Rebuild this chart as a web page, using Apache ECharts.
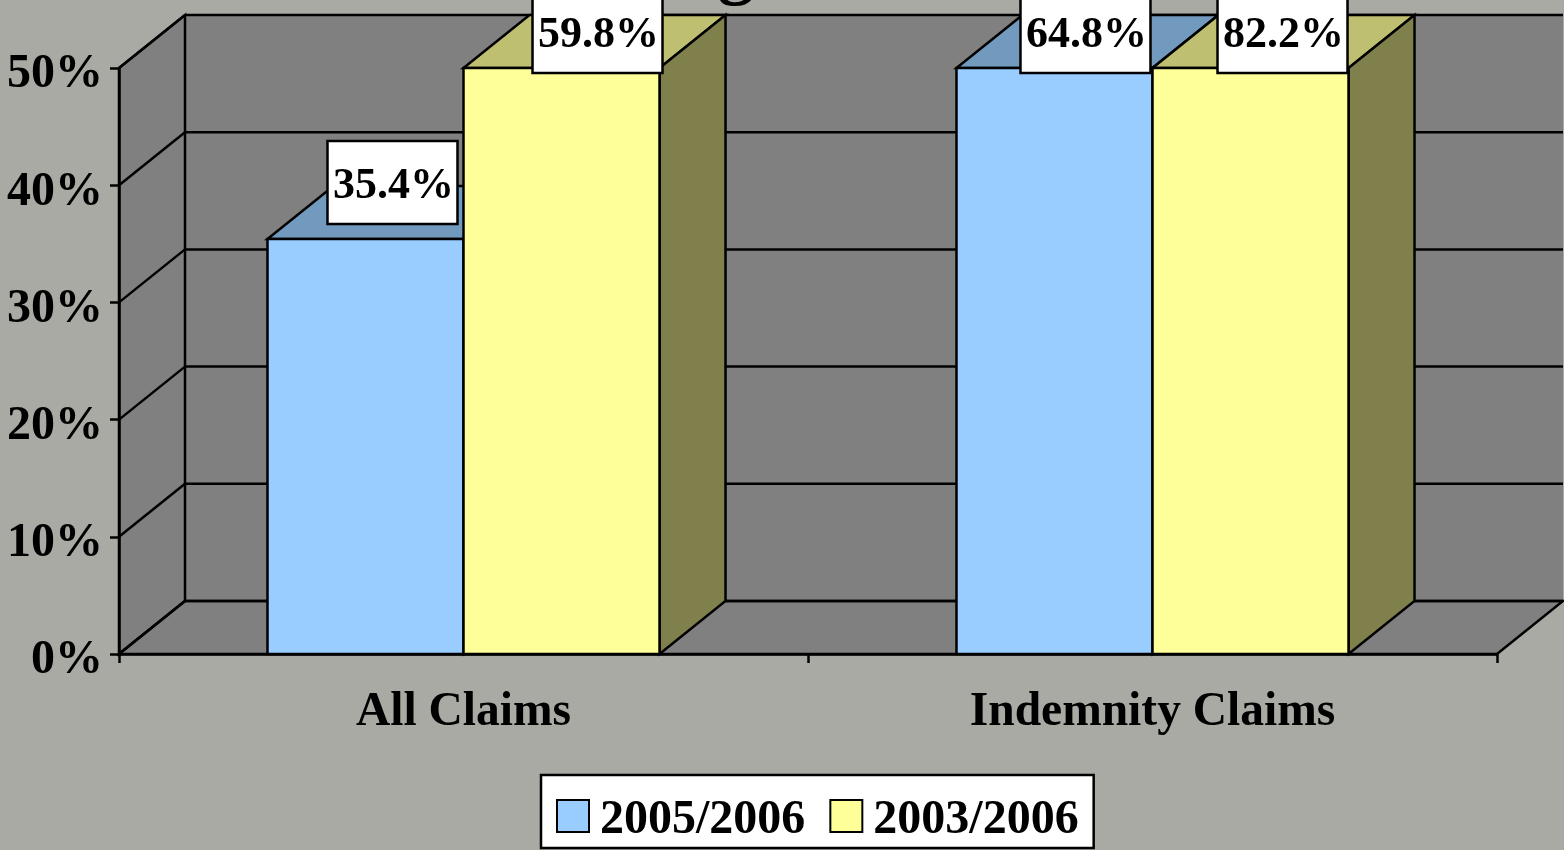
<!DOCTYPE html>
<html>
<head>
<meta charset="utf-8">
<style>
	html, body { margin: 0; padding: 0; background: #A9AAA3; overflow: hidden; }
	#chart { width: 1564px; height: 850px; }
</style>
<script src="https://cdn.jsdelivr.net/npm/echarts@6/dist/echarts.min.js"></script>
</head>
<body>
<div id="chart"></div>
<script>
// data
var categories = ['All Claims', 'Indemnity Claims'];
var seriesNames = ['2005/2006', '2003/2006'];
var values2005 = [35.4, 64.8];
var values2003 = [59.8, 82.2];
var yTicks = [0, 10, 20, 30, 40, 50];

// look of the fake 3D box
var axisMax = 50;
var depthX = 66;			// how far the back wall sits from the front plane
var depthY = -53;
var barRatio = 0.2845;		// bar width / category width
var lineW = 2.5;

var colors = [
	{ front: '#99CCFF', top: '#729ABF', side: '#4C6680' },
	{ front: '#FFFF99', top: '#BFBF72', side: '#80804C' }
];
// label box centre relative to the top middle of the bar front (series, category)
var labelShift = [
	[[27, -56.5], [31, -36.5]],
	[[36, -36.5], [32, -36.5]]
];

var line = { stroke: '#000', lineWidth: lineW };
var wallStyle = { fill: '#808080', stroke: '#000', lineWidth: lineW };

var myChart = echarts.init(document.getElementById('chart'));

// back wall, side wall, floor and the gridlines on them
function renderWalls(params, api) {
	var cs = params.coordSys;
	var x0 = cs.x, x1 = cs.x + cs.width;
	var yTop = api.coord([0, axisMax])[1];
	var yBot = api.coord([0, 0])[1];
	var kids = [
		{ type: 'rect', shape: { x: x0 + depthX, y: yTop + depthY, width: cs.width, height: yBot - yTop },
			style: { fill: '#808080' } },
		{ type: 'polygon', shape: { points: [[x0, yBot], [x0 + depthX, yBot + depthY], [x0 + depthX, yTop + depthY], [x0, yTop]] },
			style: wallStyle },
		{ type: 'polygon', shape: { points: [[x0, yBot], [x1, yBot], [x1 + depthX, yBot + depthY], [x0 + depthX, yBot + depthY]] },
			style: wallStyle }
	];
	yTicks.forEach(function (t) {
		var y = api.coord([0, t])[1];
		kids.push({ type: 'line', shape: { x1: x0, y1: y, x2: x0 + depthX, y2: y + depthY }, style: line });
		kids.push({ type: 'line', shape: { x1: x0 + depthX, y1: y + depthY, x2: x1 + depthX, y2: y + depthY }, style: line });
	});
	return { type: 'group', children: kids };
}

// one bar with top face, side face and its white label box
function makeBar(sIdx) {
	return function (params, api) {
		var cat = api.value(0);
		var val = api.value(1);
		var w = api.size([1, 0])[0] * barRatio;
		var centre = api.coord([cat, 0])[0];
		var xl = centre + (sIdx - 1) * w;
		var xr = xl + w;
		var yb = api.coord([cat, 0])[1];
		var yt = api.coord([cat, Math.min(val, axisMax)])[1];	// bars stop at the top of the axis
		var c = colors[sIdx];
		var shift = labelShift[sIdx][cat];
		var cx = (xl + xr) / 2 + shift[0];
		var cy = yt + shift[1];
		return {
			type: 'group',
			children: [
				{ type: 'polygon', shape: { points: [[xl, yt], [xr, yt], [xr + depthX, yt + depthY], [xl + depthX, yt + depthY]] },
					style: { fill: c.top, stroke: '#000', lineWidth: lineW } },
				{ type: 'polygon', shape: { points: [[xr, yb], [xr + depthX, yb + depthY], [xr + depthX, yt + depthY], [xr, yt]] },
					style: { fill: c.side, stroke: '#000', lineWidth: lineW } },
				{ type: 'rect', shape: { x: xl, y: yt, width: w, height: yb - yt },
					style: { fill: c.front, stroke: '#000', lineWidth: lineW } },
				{ type: 'rect', shape: { x: cx - 65, y: cy - 41.5, width: 130, height: 83 },
					style: { fill: '#fff', stroke: '#000', lineWidth: lineW } },
				{ type: 'text', x: cx + 1, y: cy + 4,
					style: { text: val.toFixed(1) + '%', fill: '#000', align: 'center', verticalAlign: 'middle',
						font: 'bold 44px "Liberation Serif"' } }
			]
		};
	};
}

function toData(arr) {
	return arr.map(function (v, i) { return [i, v]; });
}

var option = {
	animation: false,
	backgroundColor: '#A9AAA3',
	textStyle: { fontFamily: '"Liberation Serif"' },
	grid: { left: 119, top: 68, width: 1378, height: 586 },
	legend: {
		data: seriesNames,
		left: 541,
		top: 775,
		padding: [22, 15, 3, 15],
		backgroundColor: '#fff',
		borderColor: '#000',
		borderWidth: lineW,
		itemWidth: 32,
		itemHeight: 32,
		itemGap: 24,
		icon: 'rect',
		selectedMode: false,
		formatter: '{a|{name}}',
		textStyle: {
			rich: {
				a: { color: '#000', fontWeight: 'bold', fontSize: 48, fontFamily: '"Liberation Serif"', padding: [10, 0, 0, 6] }
			}
		}
	},
	xAxis: {
		type: 'category',
		data: categories,
		z: 5,
		axisLine: { lineStyle: { color: '#000', width: lineW } },
		axisTick: { show: true, length: 9, alignWithLabel: false, lineStyle: { color: '#000', width: lineW } },
		axisLabel: { color: '#000', fontWeight: 'bold', fontSize: 47.5, margin: 35, interval: 0 }
	},
	yAxis: {
		type: 'value',
		min: 0,
		max: axisMax,
		interval: 10,
		z: 5,
		splitLine: { show: false },
		axisLine: { show: true, lineStyle: { color: '#000', width: lineW } },
		axisTick: { show: true, length: 9, lineStyle: { color: '#000', width: lineW } },
		axisLabel: { color: '#000', fontWeight: 'bold', fontSize: 48, margin: 16, verticalAlign: 'top', lineHeight: 14, formatter: '{value}%' }
	},
	graphic: [{
		// bottom of the slide title, the rest is cut off by the crop
		type: 'text', x: 718, y: -64, z: 1,
		style: { text: 'g', fill: '#000', font: 'bold 72px "Liberation Serif"' }
	}],
	series: [
		{ type: 'custom', name: 'walls', z: 1, silent: true, renderItem: renderWalls, data: [[0, 0]], encode: { x: 0, y: 1 } },
		{ type: 'custom', name: seriesNames[0], z: 2, renderItem: makeBar(0), data: toData(values2005), encode: { x: 0, y: 1 },
			itemStyle: { color: colors[0].front, borderColor: '#000', borderWidth: lineW } },
		{ type: 'custom', name: seriesNames[1], z: 3, renderItem: makeBar(1), data: toData(values2003), encode: { x: 0, y: 1 },
			itemStyle: { color: colors[1].front, borderColor: '#000', borderWidth: lineW } }
	]
};
myChart.setOption(option);
</script>
</body>
</html>
